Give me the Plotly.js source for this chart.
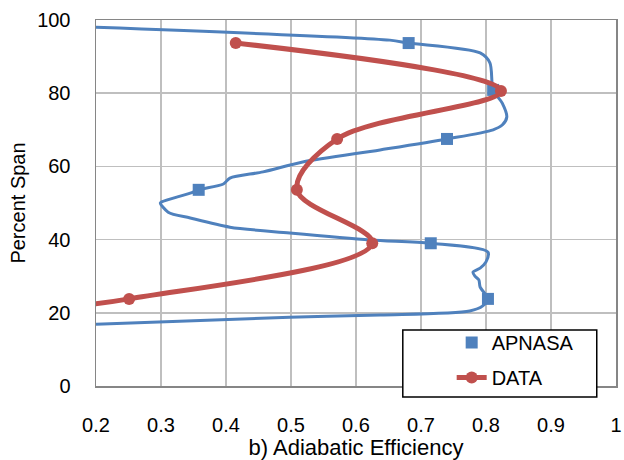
<!DOCTYPE html>
<html>
<head>
<meta charset="utf-8">
<script src="https://cdn.plot.ly/plotly-3.0.1.min.js"></script>
<style>html,body{margin:0;padding:0;background:#fff;}#chart{width:624px;height:460px;}</style>
</head>
<body>
<div id="chart"></div>
<script>
// APNASA predicted profile (continuous line)
const apnasaLineEff = [0.2, 0.652, 0.681, 0.791, 0.806, 0.811, 0.825, 0.832, 0.825, 0.811, 0.740, 0.637, 0.518, 0.457, 0.406, 0.396, 0.358, 0.345, 0.301, 0.299, 0.311, 0.345, 0.406, 0.498, 0.622, 0.715, 0.803, 0.800, 0.791, 0.780, 0.783, 0.789, 0.791, 0.803, 0.795, 0.775, 0.637, 0.498, 0.2];
const apnasaLineSpan = [98.0, 94.5, 93.7, 91.0, 88.3, 80.9, 77.3, 73.5, 71.3, 70.0, 67.5, 64.5, 61.2, 58.5, 56.8, 55.2, 53.6, 52.7, 50.3, 50.0, 47.5, 45.9, 43.4, 41.8, 39.9, 39.0, 36.6, 33.9, 32.2, 31.1, 30.0, 29.0, 27.0, 23.8, 21.9, 20.5, 19.4, 18.8, 16.9];
// APNASA markers
const apnasaMarkEff = [0.681, 0.811, 0.740, 0.358, 0.715, 0.803];
const apnasaMarkSpan = [93.7, 80.9, 67.5, 53.6, 39.0, 23.8];
// Measured data
const dataEff = [0.415, 0.823, 0.571, 0.509, 0.625, 0.251, 0.12];
const dataSpan = [93.7, 80.6, 67.5, 53.6, 39.0, 23.8, 21.0];
// Tick labels
const xTickVals = [0.2, 0.3, 0.4, 0.5, 0.6, 0.7, 0.8, 0.9, 1.0];
const xTickText = ["0.2", "0.3", "0.4", "0.5", "0.6", "0.7", "0.8", "0.9", "1"];
const yTickVals = [0, 20, 40, 60, 80, 100];

const BLUE = '#4F81BD', RED = '#C0504D';
const FONT = 'Liberation Sans, Arial, sans-serif';

const traces = [
  {x: apnasaLineEff, y: apnasaLineSpan, mode: 'lines', type: 'scatter',
   line: {color: BLUE, width: 3, shape: 'spline', smoothing: 0.8},
   showlegend: false, hoverinfo: 'skip'},
  {x: apnasaMarkEff, y: apnasaMarkSpan, mode: 'markers', type: 'scatter', name: 'APNASA',
   marker: {color: BLUE, symbol: 'square', size: 12}, legendgroup: 'a'},
  {x: dataEff, y: dataSpan, mode: 'lines+markers', type: 'scatter', name: 'DATA',
   line: {color: RED, width: 5, shape: 'spline', smoothing: 1},
   marker: {color: RED, symbol: 'circle', size: 12}, legendgroup: 'b'}
];

const layout = {
  width: 624, height: 460,
  margin: {l: 96, r: 8, t: 20, b: 74, pad: 0},
  paper_bgcolor: '#fff', plot_bgcolor: '#fff',
  font: {family: FONT, size: 20, color: '#000'},
  xaxis: {
    range: [0.2, 1.0], tickvals: xTickVals, ticktext: xTickText,
    showgrid: true, gridcolor: '#BFBFBF', gridwidth: 1.5,
    showline: true, linecolor: '#868686', linewidth: 1.5, mirror: true,
    ticks: '', zeroline: false, ticklabelstandoff: 20,
    title: {text: 'b) Adiabatic Efficiency', font: {size: 22}, standoff: 4}
  },
  yaxis: {
    range: [0, 100], tickvals: yTickVals,
    showgrid: true, gridcolor: '#BFBFBF', gridwidth: 1.5,
    showline: true, linecolor: '#868686', linewidth: 1.5, mirror: true,
    ticks: '', zeroline: false, ticklabelstandoff: 20,
    title: {text: 'Percent Span', font: {size: 20}, standoff: 6}
  },
  shapes: [{type: 'rect', xref: 'paper', yref: 'paper',
    x0: 0.590, x1: 0.963, y0: -0.030, y1: 0.153,
    line: {color: '#000', width: 1.5}, fillcolor: '#fff', layer: 'above'}],
  showlegend: true,
  legend: {x: 0.684, y: 0.172, xanchor: 'left', yanchor: 'top',
    bgcolor: 'rgba(0,0,0,0)', borderwidth: 0, tracegroupgap: 6,
    traceorder: 'grouped', font: {size: 20, family: FONT}}
};

Plotly.newPlot('chart', traces, layout, {staticPlot: true, displayModeBar: false});
</script>
</body>
</html>
